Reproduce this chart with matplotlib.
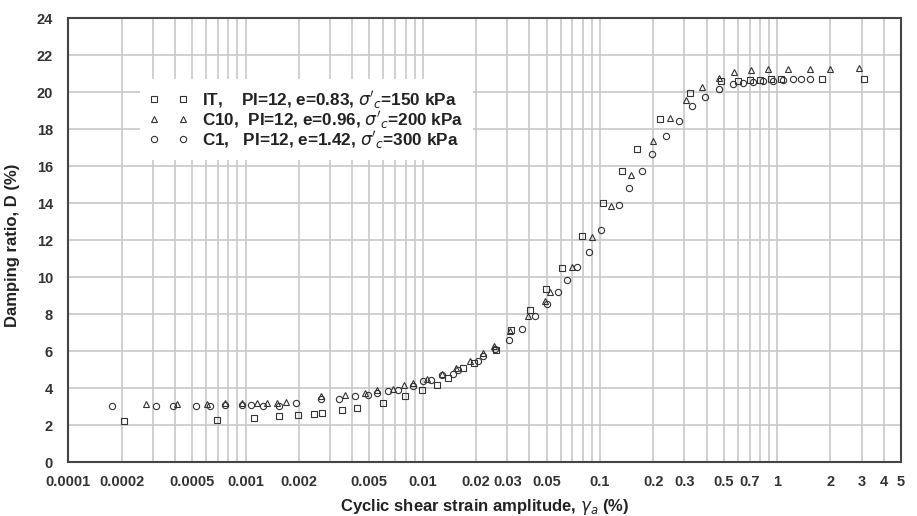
import numpy as np
import matplotlib
matplotlib.use("Agg")
import matplotlib.pyplot as plt
from matplotlib.ticker import FixedLocator, FixedFormatter, NullFormatter

plt.rcParams['font.family'] = ['Liberation Sans', 'DejaVu Sans']

# IT, PI=12, e=0.83, sigma'c=150 kPa  (squares)
it_strain = [0.000206, 0.000693, 0.00111, 0.00154, 0.00199, 0.00243, 0.00271, 0.00349,
             0.00427, 0.00598, 0.00794, 0.00986, 0.0120, 0.0139, 0.0169, 0.0195, 0.0258,
             0.0317, 0.0403, 0.0496, 0.0608, 0.0794, 0.104, 0.134, 0.161, 0.218, 0.322,
             0.485, 0.60, 0.70, 0.80, 0.92, 1.05, 1.80, 3.08]
it_damping = [2.22, 2.30, 2.38, 2.47, 2.56, 2.61, 2.65, 2.81,
              2.95, 3.22, 3.55, 3.91, 4.18, 4.54, 5.08, 5.38, 6.05,
              7.15, 8.20, 9.35, 10.49, 12.20, 14.03, 15.71, 16.92, 18.56, 19.95,
              20.60, 20.60, 20.65, 20.65, 20.68, 20.68, 20.72, 20.72]

# C10, PI=12, e=0.96, sigma'c=200 kPa  (triangles)
c10_strain = [0.000274, 0.000412, 0.000604, 0.000766, 0.000951, 0.00116, 0.00132, 0.00150,
              0.00170, 0.00265, 0.00364, 0.00472, 0.00554, 0.00682, 0.00784, 0.00884,
              0.0106, 0.0128, 0.0155, 0.0185, 0.0218, 0.0252, 0.0310, 0.0394, 0.0489,
              0.0522, 0.0692, 0.0897, 0.115, 0.149, 0.200, 0.248, 0.308, 0.378, 0.469,
              0.570, 0.710, 0.890, 1.15, 1.54, 2.00, 2.90]
c10_damping = [3.15, 3.15, 3.15, 3.22, 3.18, 3.22, 3.18, 3.22,
               3.25, 3.55, 3.60, 3.72, 3.88, 3.95, 4.15, 4.30,
               4.50, 4.75, 5.08, 5.44, 5.89, 6.30, 7.10, 7.87, 8.68,
               9.17, 10.57, 12.14, 13.82, 15.53, 17.33, 18.60, 19.58, 20.25, 20.76,
               21.06, 21.17, 21.22, 21.22, 21.22, 21.26, 21.30]

# C1, PI=12, e=1.42, sigma'c=300 kPa  (circles)
c1_strain = [0.000176, 0.000312, 0.000391, 0.000523, 0.000630, 0.000766, 0.000951, 0.00108,
             0.00125, 0.00155, 0.00193, 0.00265, 0.00338, 0.00415, 0.00489, 0.00554,
             0.00639, 0.00728, 0.00884, 0.0101, 0.0112, 0.0128, 0.0149, 0.0159, 0.0206,
             0.0219, 0.0255, 0.0308, 0.0364, 0.0430, 0.0504, 0.0582, 0.0648, 0.0738,
             0.0866, 0.102, 0.129, 0.146, 0.172, 0.197, 0.235, 0.279, 0.331, 0.394,
             0.471, 0.565, 0.643, 0.732, 0.834, 0.949, 1.08, 1.23, 1.37, 1.53]
c1_damping = [3.02, 3.02, 3.04, 3.04, 3.04, 3.10, 3.10, 3.10,
              3.05, 3.05, 3.22, 3.40, 3.40, 3.55, 3.64, 3.72,
              3.82, 3.90, 4.10, 4.40, 4.41, 4.70, 4.77, 4.95, 5.49,
              5.74, 6.10, 6.61, 7.20, 7.87, 8.56, 9.19, 9.82, 10.52,
              11.35, 12.52, 13.87, 14.84, 15.76, 16.65, 17.64, 18.46, 19.22, 19.76,
              20.18, 20.45, 20.50, 20.55, 20.60, 20.62, 20.65, 20.68, 20.70, 20.70]

x_tick_vals = [0.0001, 0.0002, 0.0005, 0.001, 0.002, 0.005, 0.01, 0.02, 0.03, 0.05,
               0.1, 0.2, 0.3, 0.5, 0.7, 1, 2, 3, 4, 5]
x_tick_labels = ['0.0001', '0.0002', '0.0005', '0.001', '0.002', '0.005', '0.01', '0.02',
                 '0.03', '0.05', '0.1', '0.2', '0.3', '0.5', '0.7', '1', '2', '3', '4', '5']
y_ticks = list(range(0, 25, 2))

labels = ["IT,    PI=12, e=0.83, $\\sigma'_c$=150 kPa",
          "C10,  PI=12, e=0.96, $\\sigma'_c$=200 kPa",
          "C1,   PI=12, e=1.42, $\\sigma'_c$=300 kPa"]

fig = plt.figure(figsize=(9.17, 5.16), dpi=100)
ax = fig.add_axes([0.0745, 0.1045, 0.908, 0.8605])

mk = dict(linestyle='none', markerfacecolor='none', markeredgecolor='#333333',
          markeredgewidth=0.8, markersize=4.5)
ax.plot(it_strain, it_damping, marker='s', label=labels[0], **mk)
ax.plot(c10_strain, c10_damping, marker='^', label=labels[1], **mk)
ax.plot(c1_strain, c1_damping, marker='o', label=labels[2], **mk)

ax.set_xscale('log')
ax.set_xlim(0.0001, 5)
ax.set_ylim(0, 24)

# grid at every 1..9 multiple of each decade
grid_x = [m * 10.0 ** d for d in range(-4, 1) for m in range(1, 10)]
ax.xaxis.set_major_locator(FixedLocator(x_tick_vals))
ax.xaxis.set_major_formatter(FixedFormatter(x_tick_labels))
ax.xaxis.set_minor_locator(FixedLocator(grid_x))
ax.xaxis.set_minor_formatter(NullFormatter())
ax.set_yticks(y_ticks)

ax.grid(True, which='both', axis='x', color='#c8c8c8', linewidth=1.2)
ax.grid(True, which='major', axis='y', color='#c8c8c8', linewidth=1.2)
ax.set_axisbelow(True)
ax.tick_params(which='both', length=0)
ax.tick_params(axis='x', pad=9, labelsize=10.5, labelcolor='#333333')
ax.tick_params(axis='y', pad=11, labelsize=10.5, labelcolor='#333333')
for lab in ax.get_xticklabels() + ax.get_yticklabels():
    lab.set_fontweight('bold')

for sp in ax.spines.values():
    sp.set_color('#444444')
    sp.set_linewidth(1.5)

ax.set_xlabel('Cyclic shear strain amplitude, $\\gamma_a$ (%)', fontsize=12,
              fontweight='bold', color='#222222', labelpad=6)
fig.text(0.014, 0.525, 'Damping ratio, D (%)', rotation=90, ha='center', va='center',
         fontsize=12, fontweight='bold', color='#222222')

leg = ax.legend(loc='upper left', bbox_to_anchor=(0.086, 0.862), borderaxespad=0,
                numpoints=2, handlelength=2.3, handletextpad=0.8, labelspacing=-0.12,
                frameon=True, fancybox=False, framealpha=1, edgecolor='none',
                prop={'weight': 'bold', 'size': 12.3}, borderpad=0.55)
for t in leg.get_texts():
    t.set_color('#222222')

fig.savefig('out.png', dpi=100)
